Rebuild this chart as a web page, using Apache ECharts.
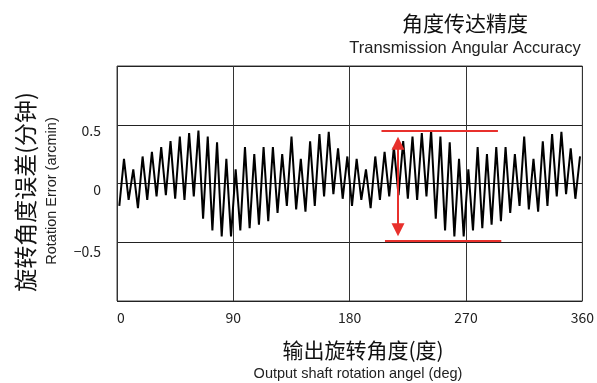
<!DOCTYPE html>
<html>
<head>
<meta charset="utf-8">
<script src="https://cdn.jsdelivr.net/npm/echarts@6/dist/echarts.min.js"></script>
<style>
  html, body { margin: 0; padding: 0; background: #fff; }
  #chart { width: 597px; height: 383px; }
</style>
</head>
<body>
<div id="chart"></div>
<script>
// Output shaft sampled every 3.6 degrees, starting at 1.8 degrees
const sampleStart = 1.8;
const sampleStep = 3.6;

// Rotation error (arcmin) at each sample, peaks and troughs alternating
const errorArcmin = [
  -0.19, 0.21, -0.14, 0.12, -0.21, 0.23, -0.14, 0.27, -0.11, 0.31,
  -0.10, 0.36, -0.13, 0.40, -0.14, 0.43, -0.11, 0.45, -0.30, 0.40,
  -0.40, 0.35, -0.45, 0.21, -0.45, 0.12, -0.40, 0.31, -0.38, 0.25,
  -0.35, 0.31, -0.32, 0.31, -0.25, 0.25, -0.19, 0.40, -0.22, 0.21,
  -0.24, 0.36, -0.19, 0.42, -0.11, 0.44, -0.09, 0.30, -0.13, 0.23,
  -0.19, 0.21, -0.14, 0.12, -0.21, 0.23, -0.14, 0.27, -0.11, 0.31,
  -0.10, 0.36, -0.13, 0.40, -0.14, 0.43, -0.11, 0.45, -0.30, 0.40,
  -0.40, 0.35, -0.45, 0.21, -0.45, 0.12, -0.40, 0.31, -0.38, 0.25,
  -0.35, 0.31, -0.32, 0.31, -0.25, 0.25, -0.19, 0.40, -0.22, 0.21,
  -0.24, 0.36, -0.19, 0.42, -0.11, 0.44, -0.09, 0.30, -0.13, 0.23
];

// Axis ticks
const xTicks = [0, 90, 180, 270, 360];
const yTickLabels = { '0.5': '0.5', '0': '0', '-0.5': '\u22120.5' };

// Peak-to-peak band annotation (data units)
const bandTop = 0.45;
const bandBottom = -0.49;
const bandTopSpan = [204.6, 294.7];
const bandBottomSpan = [207.3, 297.3];
const arrowAngle = 217.4;
const arrowEnds = [0.343, -0.393];

const points = errorArcmin.map((v, i) => [sampleStart + i * sampleStep, v]);

const CJK = '"Noto Sans CJK SC", sans-serif';
const LATIN = '"Liberation Sans", Arial, sans-serif';
const RED = '#e8302c';

const chart = echarts.init(document.getElementById('chart'), null, { renderer: 'canvas' });

chart.setOption({
  animation: false,
  backgroundColor: '#fff',
  grid: { left: 117, right: 14, top: 66, bottom: 82, show: true, borderColor: '#444', borderWidth: 1 },
  xAxis: {
    type: 'value',
    min: xTicks[0],
    max: xTicks[xTicks.length - 1],
    interval: 90,
    axisLine: { show: false },
    axisTick: { show: false },
    splitLine: { show: true, lineStyle: { color: '#333', width: 1 } },
    axisLabel: {
      margin: 10,
      fontFamily: CJK,
      fontSize: 14,
      color: '#222',
      alignMinLabel: 'left',
      formatter: v => String(v)
    }
  },
  yAxis: {
    type: 'value',
    min: -1,
    max: 1,
    interval: 0.5,
    axisLine: { show: false },
    axisTick: { show: false },
    splitLine: { show: true, lineStyle: { color: '#222', width: 1 } },
    axisLabel: {
      margin: 16,
      fontFamily: CJK,
      fontSize: 14,
      color: '#222',
      formatter: v => {
        const t = yTickLabels[String(v)];
        if (t === undefined) return '';
        return v < 0 ? '{lo|' + t + '}' : '{n|' + t + '}';
      },
      rich: {
        n: { fontFamily: CJK, fontSize: 14, color: '#222', padding: [12, 0, 0, 0] },
        lo: { fontFamily: CJK, fontSize: 14, color: '#222', padding: [18, 0, 0, 0] }
      }
    }
  },
  series: [{
    type: 'line',
    data: points,
    showSymbol: false,
    symbol: 'none',
    lineStyle: { color: '#000', width: 2 },
    z: 3,
    markLine: {
      silent: true,
      animation: false,
      symbol: ['none', 'none'],
      label: { show: false },
      lineStyle: { color: RED, width: 2, type: 'solid' },
      data: [
        [{ coord: [bandTopSpan[0], bandTop] }, { coord: [bandTopSpan[1], bandTop] }],
        [{ coord: [bandBottomSpan[0], bandBottom] }, { coord: [bandBottomSpan[1], bandBottom] }],
        [
          { coord: [arrowAngle, arrowEnds[0]], symbol: 'triangle', symbolSize: [13, 13] },
          { coord: [arrowAngle, arrowEnds[1]], symbol: 'triangle', symbolSize: [13, 13] }
        ]
      ]
    }
  }],
  graphic: [
    { type: 'text', x: 465, y: 23, style: { text: '角度传达精度', fontFamily: CJK, fontSize: 21, fill: '#111', align: 'center', verticalAlign: 'middle' } },
    { type: 'text', x: 465, y: 48, style: { text: 'Transmission Angular Accuracy', fontFamily: LATIN, fontSize: 16.5, fill: '#222', align: 'center', verticalAlign: 'middle' } },
    { type: 'text', x: 25, y: 192, rotation: Math.PI / 2, style: { text: '旋转角度误差(分钟)', fontFamily: CJK, fontSize: 23, fill: '#111', align: 'center', verticalAlign: 'middle' } },
    { type: 'text', x: 52, y: 191, rotation: Math.PI / 2, style: { text: 'Rotation Error (arcmin)', fontFamily: LATIN, fontSize: 14.5, fill: '#222', align: 'center', verticalAlign: 'middle' } },
    { type: 'text', x: 363, y: 350, style: { text: '输出旋转角度(度)', fontFamily: CJK, fontSize: 21, fill: '#111', align: 'center', verticalAlign: 'middle' } },
    { type: 'text', x: 358, y: 374, style: { text: 'Output shaft rotation angel (deg)', fontFamily: LATIN, fontSize: 14.5, fill: '#222', align: 'center', verticalAlign: 'middle' } }
  ]
});
</script>
</body>
</html>
